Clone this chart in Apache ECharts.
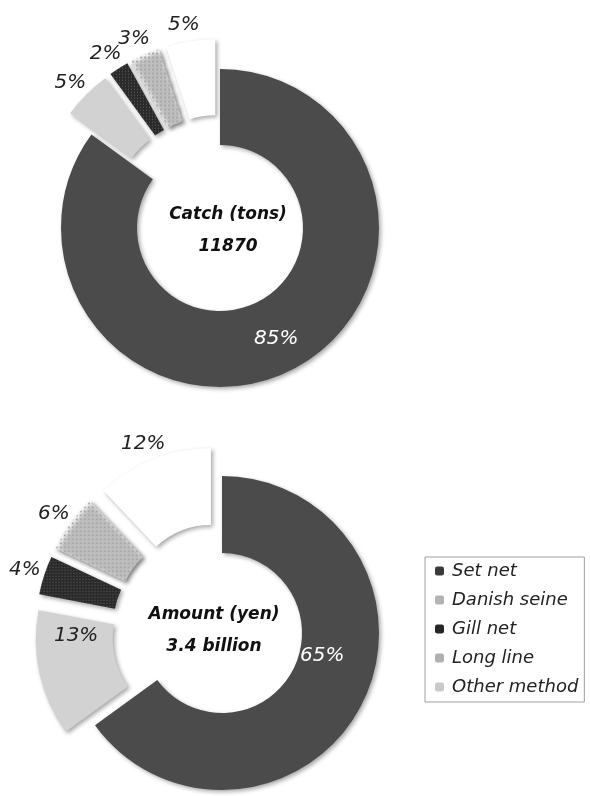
<!DOCTYPE html>
<html>
<head>
<meta charset="utf-8">
<script src="https://cdn.jsdelivr.net/npm/echarts@6/dist/echarts.min.js"></script>
<style>
  html, body { margin: 0; padding: 0; background: #fff; }
  #chart { width: 590px; height: 796px; }
</style>
</head>
<body>
<div id="chart"></div>
<script>
// Fishing methods, in clockwise order starting at 12 o'clock
const methods = ['Set net', 'Danish seine', 'Gill net', 'Long line', 'Other method'];
// Share of catch (tons), percent
const catchShare = [85, 5, 2, 3, 5];
// Share of landing amount (yen), percent
const amountShare = [65, 13, 4, 6, 12];
// Centre captions
const catchCaption = ['Catch (tons)', '11870'];
const amountCaption = ['Amount (yen)', '3.4 billion'];

const FONT = '"DejaVu Sans", "Liberation Sans", sans-serif';

// Fill style for each method
const methodStyles = [
  { color: '#4b4b4b' },
  { color: '#d2d2d2' },
  { color: '#2b2b2b',
    decal: { symbol: 'rect', symbolSize: 1, dashArrayX: [1, 2], dashArrayY: [1, 2], color: 'rgba(255,255,255,0.28)' } },
  { color: '#fdfdfd',
    decal: { symbol: 'rect', symbolSize: 1, dashArrayX: [2, 2], dashArrayY: [2, 2], color: '#a8a8a8' } },
  { color: '#ffffff' }
];
// Swatch colours shown in the legend
const legendSwatches = ['#3a3a3a', '#b4b4b4', '#262626', '#b0b0b0', '#cacaca'];

function buildData(values, insideIdx) {
  return values.map((v, i) => {
    const item = {
      name: methods[i],
      value: v,
      selected: i !== 0,
      itemStyle: Object.assign({
        shadowBlur: 4,
        shadowColor: 'rgba(0,0,0,0.35)',
        shadowOffsetX: 2,
        shadowOffsetY: 2
      }, methodStyles[i])
    };
    if (i === 0) {
      item.label = { position: 'inside', color: '#ffffff' };
    } else if (insideIdx.indexOf(i) >= 0) {
      item.label = { position: 'inside', color: '#222' };
    }
    return item;
  });
}

// labelNudge: per data index [dx, dy] tweak for inside labels
function donut(values, center, radius, lineLen, insideIdx, labelNudge) {
  return {
    type: 'pie',
    center: center,
    radius: radius,
    startAngle: 90,
    clockwise: true,
    selectedMode: 'multiple',
    selectedOffset: 30,
    avoidLabelOverlap: false,
    animation: false,
    label: {
      show: true,
      position: 'outside',
      formatter: '{c}%',
      fontFamily: FONT,
      fontStyle: 'italic',
      fontSize: 20,
      color: '#222',
      distanceToLabelLine: 4
    },
    labelLine: { show: false, length: lineLen, length2: 0 },
    labelLayout: function (p) {
      const n = labelNudge[p.dataIndex] || [0, 0];
      return { align: 'center', hideOverlap: false, dx: n[0], dy: n[1] };
    },
    emphasis: { disabled: true },
    data: buildData(values, insideIdx)
  };
}

function caption(lines, x, y) {
  return lines.map((t, i) => ({
    type: 'text',
    x: x,
    y: y + i * 32,
    style: {
      text: t,
      textAlign: 'center',
      textVerticalAlign: 'middle',
      font: 'italic bold 17px ' + FONT,
      fill: '#111'
    }
  }));
}

const chart = echarts.init(document.getElementById('chart'));
chart.setOption({
  backgroundColor: '#ffffff',
  legend: {
    orient: 'vertical',
    left: 425,
    top: 557,
    padding: [5, 6, 6, 10],
    itemGap: 11,
    itemWidth: 9,
    itemHeight: 9,
    borderColor: '#a0a0a0',
    borderWidth: 1,
    selectedMode: false,
    textStyle: { fontFamily: FONT, fontStyle: 'italic', fontSize: 18, color: '#222', padding: [0, 0, 0, 3] },
    data: methods.map((m, i) => ({ name: m, itemStyle: { color: legendSwatches[i], decal: 'none', shadowBlur: 0, shadowOffsetX: 0, shadowOffsetY: 0 } }))
  },
  series: [
    donut(catchShare, [220, 228], [83, 159], 17, [], {}),
    donut(amountShare, [222, 633], [80, 157], 16, [1], { 0: [-8, -32], 1: [2, -30] })
  ],
  graphic: caption(catchCaption, 228, 215).concat(caption(amountCaption, 214, 615))
});
</script>
</body>
</html>
